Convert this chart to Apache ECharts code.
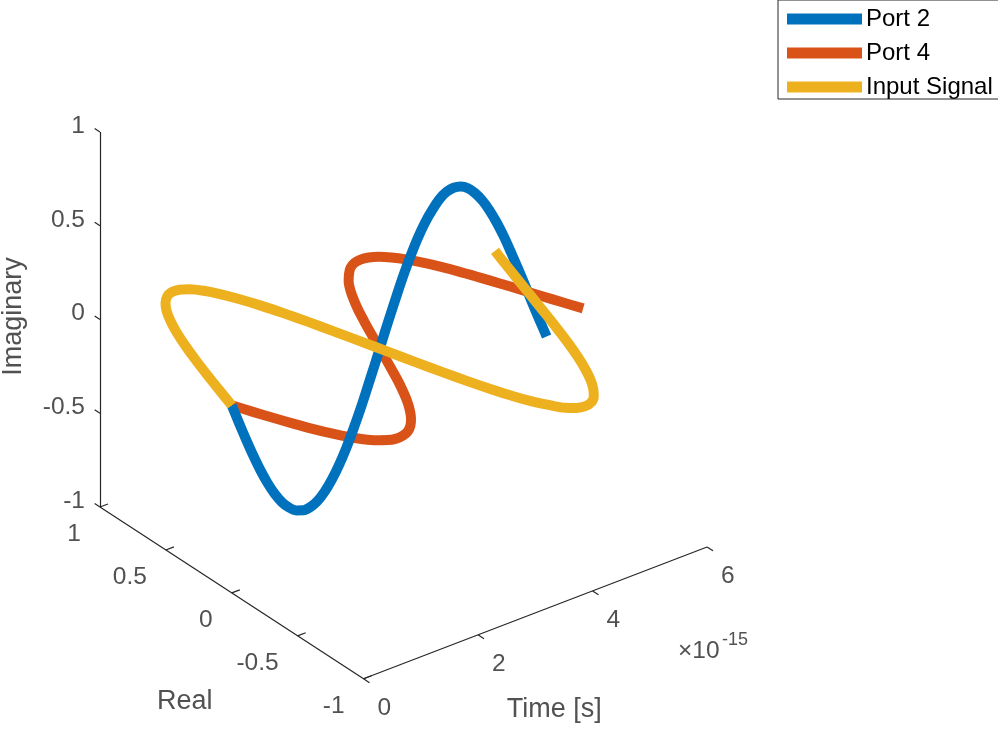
<!DOCTYPE html>
<html>
<head>
<meta charset="utf-8">
<script src="https://cdn.jsdelivr.net/npm/echarts@6/dist/echarts.min.js"></script>
<style>
  html, body { margin: 0; background: #fff; }
  #chart { width: 998px; height: 730px; }
</style>
</head>
<body>
<div id="chart"></div>
<script>
// time in units of 1e-15 s
const timeFs = [0, 0.125, 0.25, 0.375, 0.5, 0.625, 0.75, 0.875, 1, 1.125, 1.25, 1.375,
  1.5, 1.625, 1.75, 1.875, 2, 2.125, 2.25, 2.375, 2.5, 2.625, 2.75, 2.875,
  3, 3.125, 3.25, 3.375, 3.5, 3.625, 3.75, 3.875, 4, 4.125, 4.25, 4.375,
  4.5, 4.625, 4.75, 4.875, 5, 5.125, 5.25, 5.375, 5.5]
const inputRe = [0, 0.151, 0.299, 0.44, 0.571, 0.689, 0.79, 0.874, 0.937, 0.979, 0.999, 0.995,
  0.969, 0.919, 0.849, 0.76, 0.653, 0.531, 0.397, 0.252, 0.103, -0.049, -0.199, -0.345,
  -0.485, -0.611, -0.724, -0.819, -0.893, -0.954, -0.988, -1, -0.989, -0.955, -0.897, -0.822,
  -0.727, -0.615, -0.489, -0.35, -0.204, -0.055, 0.097, 0.246, 0.392]
const port2Im = [0, -0.107, -0.211, -0.311, -0.404, -0.487, -0.559, -0.618, -0.662, -0.692, -0.706, -0.703,
  -0.685, -0.65, -0.6, -0.537, -0.462, -0.375, -0.281, -0.178, -0.073, 0.035, 0.141, 0.244,
  0.343, 0.432, 0.512, 0.579, 0.631, 0.674, 0.699, 0.707, 0.699, 0.675, 0.634, 0.581,
  0.514, 0.435, 0.346, 0.247, 0.144, 0.039, -0.069, -0.174, -0.277]
const port4Re = [0, -0.107, -0.211, -0.311, -0.404, -0.487, -0.559, -0.618, -0.662, -0.692, -0.706, -0.703,
  -0.685, -0.65, -0.6, -0.537, -0.462, -0.375, -0.281, -0.178, -0.073, 0.035, 0.141, 0.244,
  0.343, 0.432, 0.512, 0.579, 0.631, 0.674, 0.699, 0.707, 0.699, 0.675, 0.634, 0.581,
  0.514, 0.435, 0.346, 0.247, 0.144, 0.039, -0.069, -0.174, -0.277]
// the other component of each signal stays at zero
const flatPart = [0, 0, 0, 0, 0, 0, 0, 0, 0, 0, 0, 0, 0, 0, 0, 0, 0, 0, 0, 0, 0, 0, 0,
  0, 0, 0, 0, 0, 0, 0, 0, 0, 0, 0, 0, 0, 0, 0, 0, 0, 0, 0, 0, 0, 0]

const timeTicks = [0, 2, 4, 6]
const realTicks = [1, 0.5, 0, -0.5, -1]
const imagTicks = [1, 0.5, 0, -0.5, -1]
const realTickLabels = ['1', '0.5', '0', '-0.5', '-1']
const imagTickLabels = ['1', '0.5', '0', '-0.5', '-1']
const timeTickLabels = ['0', '2', '4', '6']

const lim = { t: [0, 6], re: [-1, 1], im: [-1, 1] }
// default matlab 3d view
const view = { az: -37.5, el: 30, size: 433, cx: 403.5, cy: 339.5 }

const ink = '#262626'
const font = 'Liberation Sans, Arial, sans-serif'
const colors = { port2: '#0072BD', port4: '#D95319', input: '#EDB120' }

function project(t, re, im) {
  const a = view.az * Math.PI / 180
  const e = view.el * Math.PI / 180
  const u = (t - (lim.t[0] + lim.t[1]) / 2) / (lim.t[1] - lim.t[0])
  const v = (re - (lim.re[0] + lim.re[1]) / 2) / (lim.re[1] - lim.re[0])
  const w = (im - (lim.im[0] + lim.im[1]) / 2) / (lim.im[1] - lim.im[0])
  const x = view.cx + view.size * (u * Math.cos(a) + v * Math.sin(a))
  const y = view.cy - view.size * (-u * Math.sin(a) * Math.sin(e) + v * Math.cos(a) * Math.sin(e) + w * Math.cos(e))
  return [x, y]
}

function curve(name, re, im, color) {
  return {
    name,
    type: 'line',
    data: timeFs.map((t, i) => project(t, re[i], im[i])),
    showSymbol: false,
    smooth: 0.3,
    lineStyle: { width: 10, color, cap: 'butt', join: 'round' },
    itemStyle: { color },
    z: 3
  }
}

// box edges and ticks
const segs = [
  [[lim.t[0], lim.re[1], lim.im[0]], [lim.t[0], lim.re[1], lim.im[1]]],
  [[lim.t[0], lim.re[1], lim.im[0]], [lim.t[0], lim.re[0], lim.im[0]]],
  [[lim.t[0], lim.re[0], lim.im[0]], [lim.t[1], lim.re[0], lim.im[0]]]
]
imagTicks.forEach(v => segs.push([[0, 1, v], [0, 1.04, v]]))
realTicks.forEach(v => segs.push([[0, v, -1], [0.14, v, -1]]))
timeTicks.forEach(v => segs.push([[v, -1, -1], [v, -1.045, -1]]))

function texts(items, label) {
  return {
    type: 'scatter',
    symbolSize: 0,
    silent: true,
    z: 5,
    data: items.map(it => ({ value: project(...it.at), label: { formatter: it.text } })),
    label: Object.assign({ show: true, position: 'inside', color: ink, fontFamily: font, fontSize: 24.5 }, label)
  }
}

const option = {
  animation: false,
  backgroundColor: '#fff',
  grid: { left: 0, top: 0, width: 998, height: 730 },
  xAxis: { type: 'value', min: 0, max: 998, show: false },
  yAxis: { type: 'value', min: 0, max: 730, inverse: true, show: false },
  legend: {
    data: ['Port 2', 'Port 4', 'Input Signal'],
    orient: 'vertical',
    left: 778,
    top: 0,
    padding: [7, 60, 0, 9],
    itemGap: 10,
    itemWidth: 75,
    itemHeight: 11,
    icon: 'rect',
    borderColor: ink,
    borderWidth: 1,
    backgroundColor: '#fff',
    textStyle: { fontFamily: font, fontSize: 24, color: '#000', lineHeight: 24, padding: [0, 0, 0, -1] }
  },
  series: [
    {
      type: 'lines',
      coordinateSystem: 'cartesian2d',
      silent: true,
      z: 1,
      lineStyle: { color: ink, width: 1.2, opacity: 1 },
      data: segs.map(s => ({ coords: [project(...s[0]), project(...s[1])] }))
    },
    curve('Port 4', port4Re, flatPart, colors.port4),
    curve('Port 2', flatPart, port2Im, colors.port2),
    curve('Input Signal', inputRe, flatPart, colors.input),
    texts(imagTicks.map((v, i) => ({ at: [0, 1, v], text: imagTickLabels[i] })),
      { align: 'right', verticalAlign: 'middle', offset: [-15, -6] }),
    texts(realTicks.map((v, i) => ({ at: [0, v, -1], text: realTickLabels[i] })),
      { align: 'right', verticalAlign: 'middle', offset: [-19, 27] }),
    texts(timeTicks.map((v, i) => ({ at: [v, -1, -1], text: timeTickLabels[i] })),
      { align: 'left', verticalAlign: 'middle', offset: [14, 29] }),
    // offset is turned with the label, so it is given in the rotated frame
    texts([{ at: [0, 1, 0], text: 'Imaginary' }],
      { align: 'center', verticalAlign: 'middle', rotate: 90, offset: [3, -86], fontSize: 27 }),
    texts([{ at: [0, 0, -1], text: 'Real' }],
      { align: 'center', verticalAlign: 'middle', offset: [-47, 109], fontSize: 27 }),
    texts([{ at: [3, -1, -1], text: 'Time [s]' }],
      { align: 'center', verticalAlign: 'middle', offset: [19, 97], fontSize: 27 }),
    texts([{ at: [6, -1, -1], text: '×10' }],
      { align: 'left', verticalAlign: 'middle', offset: [-29, 104] }),
    texts([{ at: [6, -1, -1], text: '-15' }],
      { align: 'left', verticalAlign: 'middle', offset: [15, 93], fontSize: 18 })
  ]
}

const chart = echarts.init(document.getElementById('chart'))
chart.setOption(option)
</script>
</body>
</html>
